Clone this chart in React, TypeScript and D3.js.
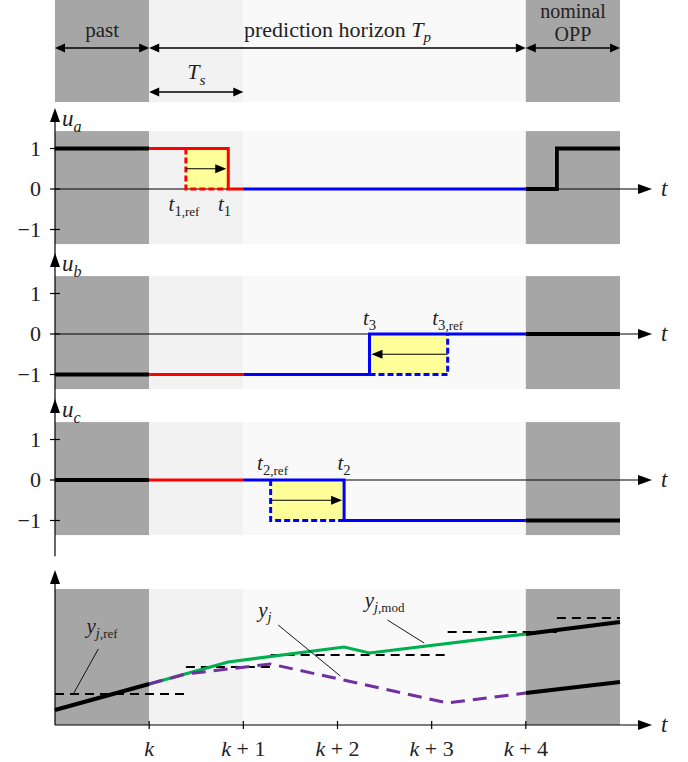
import * as d3 from 'd3'

// time axis, in sample steps relative to k
const xTicks = [0, 1, 2, 3, 4]
const xTickLabels = ['k', 'k+1', 'k+2', 'k+3', 'k+4']
const yTicks = [1, 0, -1]
const yTickLabels = ['1', '0', '−1']

// switching instants
const t1Ref = 0.39
const t1 = 0.84
const t2Ref = 1.29
const t2 = 2.07
const t3 = 2.34
const t3Ref = 3.17
const tNom = 4.33

const regions = [
  { from: -1, to: 0, fill: '#a6a6a6' },
  { from: 0, to: 1, fill: '#f2f2f2' },
  { from: 1, to: 4, fill: '#f9f9f9' },
  { from: 4, to: 5, fill: '#a6a6a6' },
]

// switching sequences (t, u)
const uaPast = [[-1, 1], [0, 1]]
const uaFirst = [[0, 1], [t1, 1], [t1, 0], [1, 0]]
const uaRest = [[1, 0], [4, 0]]
const uaNominal = [[4, 0], [tNom, 0], [tNom, 1], [5, 1]]
const uaRef = [[t1Ref, 1], [t1Ref, 0], [t1, 0]]

const ubPast = [[-1, -1], [0, -1]]
const ubFirst = [[0, -1], [1, -1]]
const ubRest = [[1, -1], [t3, -1], [t3, 0], [4, 0]]
const ubNominal = [[4, 0], [5, 0]]
const ubRef = [[t3, -1], [t3Ref, -1], [t3Ref, 0]]

const ucPast = [[-1, 0], [0, 0]]
const ucFirst = [[0, 0], [1, 0]]
const ucRest = [[1, 0], [t2, 0], [t2, -1], [4, -1]]
const ucNominal = [[4, -1], [5, -1]]
const ucRef = [[t2Ref, 0], [t2Ref, -1], [t2, -1]]

// output trajectories
const yPast = [[-1, 1.5], [0, 4.1]]
const yMod = [[0, 4.1], [t1, 6.3], [t2, 7.8], [t3, 7.2], [4, 9.1]]
const yJ = [[0, 4.1], [t1Ref, 5.1], [t2Ref, 6.1], [t3Ref, 2.2], [4, 3.2]]
const yNomUpper = [[4, 9.1], [5, 10.3]]
const yNomLower = [[4, 3.2], [5, 4.3]]
const yRefSteps = [
  { from: -1, to: t1Ref, y: 3.1 },
  { from: t1Ref, to: t2Ref, y: 5.8 },
  { from: t2Ref, to: t3Ref, y: 7.0 },
  { from: t3Ref, to: tNom, y: 9.3 },
  { from: tNom, to: 5, y: 10.7 },
]

const W = 688
const H = 762
const RED = '#ff0000'
const BLUE = '#0000ff'
const GREEN = '#00b050'
const PURPLE = '#7030a0'
const YELLOW = '#ffff99'
const FS = 21

const x = d3.scaleLinear().domain([-1, 5]).range([55, 620])
const axisEnd = 652

const Head = ({ x0, y0, dir, size = 14, width = 10 }) => {
  // triangle with tip at (x0, y0)
  const h = width / 2
  let pts
  if (dir === 'right') pts = [[x0, y0], [x0 - size, y0 - h], [x0 - size, y0 + h]]
  else if (dir === 'left') pts = [[x0, y0], [x0 + size, y0 - h], [x0 + size, y0 + h]]
  else pts = [[x0, y0], [x0 - h, y0 + size], [x0 + h, y0 + size]]
  return <polygon points={pts.map(p => p.join(',')).join(' ')} fill="black" />
}

const DArrow = ({ xa, xb, y }) => (
  <g>
    <line x1={xa + 4} x2={xb - 4} y1={y} y2={y} stroke="black" strokeWidth="1.5" />
    <Head x0={xa} y0={y} dir="left" size={10} width={9} />
    <Head x0={xb} y0={y} dir="right" size={10} width={9} />
  </g>
)

// math label: main symbol italic, subscript parts
const Sym = ({ x0, y0, main, sub, subRoman, anchor = 'middle', size = FS }) => (
  <text x={x0} y={y0} textAnchor={anchor} fontSize={size}>
    <tspan fontStyle="italic">{main}</tspan>
    {sub !== undefined && (
      <tspan fontSize={size * 0.7} dy={size * 0.25} fontStyle={/^[a-z]$/.test(sub) ? 'italic' : 'normal'}>
        {sub}
      </tspan>
    )}
    {subRoman && <tspan fontSize={size * 0.62} fontStyle="normal">{subRoman}</tspan>}
  </text>
)

const panels = [
  {
    name: 'a', zero: 189,
    past: uaPast, first: uaFirst, rest: uaRest, nominal: uaNominal, ref: uaRef, refColor: RED,
    box: [t1Ref, t1, 0, 1], arrow: [t1Ref, t1],
    labels: [
      { t: t1Ref - 0.02, dy: 22, sub: '1', subRoman: ',ref' },
      { t: t1 - 0.04, dy: 22, sub: '1' },
    ],
  },
  {
    name: 'b', zero: 334,
    past: ubPast, first: ubFirst, rest: ubRest, nominal: ubNominal, ref: ubRef, refColor: BLUE,
    box: [t3, t3Ref, -1, 0], arrow: [t3Ref, t3],
    labels: [
      { t: t3, dy: -9, sub: '3' },
      { t: t3Ref, dy: -9, sub: '3', subRoman: ',ref' },
    ],
  },
  {
    name: 'c', zero: 480,
    past: ucPast, first: ucFirst, rest: ucRest, nominal: ucNominal, ref: ucRef, refColor: BLUE,
    box: [t2Ref, t2, -1, 0], arrow: [t2Ref, t2],
    labels: [
      { t: t2Ref + 0.02, dy: -10, sub: '2', subRoman: ',ref' },
      { t: t2, dy: -10, sub: '2' },
    ],
  },
]

const ControlPanel = ({ p }) => {
  const y = d3.scaleLinear().domain([-1, 1]).range([p.zero + 40.5, p.zero - 40.5])
  const line = d3.line().x(d => x(d[0])).y(d => y(d[1]))
  const [b0, b1, v0, v1] = p.box
  const ay = y((v0 + v1) / 2)
  const [a0, a1] = p.arrow
  const dir = a1 > a0 ? 'right' : 'left'
  return (
    <g>
      {regions.map(r => (
        <rect key={r.from} x={x(r.from)} width={x(r.to) - x(r.from)} y={y(1.43)} height={y(-1.36) - y(1.43)} fill={r.fill} />
      ))}
      <rect x={x(b0)} width={x(b1) - x(b0)} y={y(v1)} height={y(v0) - y(v1)} fill={YELLOW} />
      {/* axes */}
      <line x1={x(-1)} x2={axisEnd - 8} y1={y(0)} y2={y(0)} stroke="black" strokeWidth="1.2" />
      <Head x0={axisEnd} y0={y(0)} dir="right" />
      <text x={axisEnd + 9} y={y(0) + 7} fontStyle="italic" fontSize="23">t</text>
      <line x1={x(-1)} x2={x(-1)} y1={y(2) + 6} y2={y(-1.88)} stroke="black" strokeWidth="1.2" />
      <Head x0={x(-1)} y0={y(2)} dir="up" />
      <Sym x0={x(-1) + 7} y0={y(1.55)} main="u" sub={p.name} anchor="start" size={23} />
      {yTicks.map((v, i) => (
        <g key={v}>
          <line x1={x(-1) - 5} x2={x(-1) + 5} y1={y(v)} y2={y(v)} stroke="black" strokeWidth="1.2" />
          <text x={41} y={y(v) + 7} textAnchor="end" fontSize="22">{yTickLabels[i]}</text>
        </g>
      ))}
      {/* trajectories */}
      <path d={line(p.past)} fill="none" stroke="black" strokeWidth="3.8" />
      <path d={line(p.first)} fill="none" stroke={RED} strokeWidth="3" />
      <path d={line(p.rest)} fill="none" stroke={BLUE} strokeWidth="3" />
      <path d={line(p.nominal)} fill="none" stroke="black" strokeWidth="3.8" />
      <path d={line(p.ref)} fill="none" stroke={p.refColor} strokeWidth="3" strokeDasharray="6,3" />
      <line x1={x(a0)} x2={x(a1) + (dir === 'right' ? -10 : 10)} y1={ay} y2={ay} stroke="black" strokeWidth="1.2" />
      <Head x0={x(a1) + (dir === 'right' ? -2 : 2)} y0={ay} dir={dir} size={11} width={9} />
      {p.labels.map((l, i) => (
        <Sym key={i} x0={x(l.t)} y0={y(0) + l.dy} main="t" sub={l.sub} subRoman={l.subRoman} />
      ))}
    </g>
  )
}

const OutputPanel = () => {
  const y = d3.scaleLinear().domain([0, 13.6]).range([725, 589])
  const line = d3.line().x(d => x(d[0])).y(d => y(d[1]))
  return (
    <g>
      {regions.map(r => (
        <rect key={r.from} x={x(r.from)} width={x(r.to) - x(r.from)} y={y(13.6)} height={y(0) - y(13.6)} fill={r.fill} />
      ))}
      {yRefSteps.map(s => (
        <line key={s.from} x1={x(s.from)} x2={x(s.to)} y1={y(s.y)} y2={y(s.y)} stroke="black" strokeWidth="2" strokeDasharray="9,6" />
      ))}
      <path d={line(yMod)} fill="none" stroke={GREEN} strokeWidth="3.2" />
      <path d={line(yJ)} fill="none" stroke={PURPLE} strokeWidth="3" strokeDasharray="14,8" />
      <path d={line(yPast)} fill="none" stroke="black" strokeWidth="4" />
      <path d={line(yNomUpper)} fill="none" stroke="black" strokeWidth="4" />
      <path d={line(yNomLower)} fill="none" stroke="black" strokeWidth="4" />
      {/* annotations */}
      <line x1={x(-0.54)} y1={y(7.6)} x2={x(-0.8)} y2={y(3.2)} stroke="black" strokeWidth="0.9" />
      <Sym x0={x(-0.5)} y0={y(9.2)} main="y" sub="j" subRoman=",ref" />
      <line x1={x(1.37)} y1={y(10.0)} x2={x(2.03)} y2={y(4.9)} stroke="black" strokeWidth="0.9" />
      <Sym x0={x(1.23)} y0={y(10.8)} main="y" sub="j" />
      <line x1={x(2.53)} y1={y(10.5)} x2={x(2.92)} y2={y(8.2)} stroke="black" strokeWidth="0.9" />
      <Sym x0={x(2.5)} y0={y(11.8)} main="y" sub="j" subRoman=",mod" />
      {/* axes */}
      <line x1={x(-1)} x2={axisEnd - 8} y1={y(0)} y2={y(0)} stroke="black" strokeWidth="1.2" />
      <Head x0={axisEnd} y0={y(0)} dir="right" />
      <text x={axisEnd + 9} y={y(0) + 7} fontStyle="italic" fontSize="23">t</text>
      <line x1={x(-1)} x2={x(-1)} y1={y(14.8)} y2={y(0)} stroke="black" strokeWidth="1.2" />
      <Head x0={x(-1)} y0={y(15.5)} dir="up" />
      {xTicks.map((t, i) => {
        const parts = xTickLabels[i].split('+')
        return (
          <g key={t}>
            <line x1={x(t)} x2={x(t)} y1={y(0) - 4} y2={y(0) + 4} stroke="black" strokeWidth="1.2" />
            <text x={x(t)} y={y(0) + 31} textAnchor="middle" fontSize="22">
              <tspan fontStyle="italic">{parts[0]}</tspan>
              {parts[1] && <tspan>{' + ' + parts[1]}</tspan>}
            </text>
          </g>
        )
      })}
    </g>
  )
}

const Header = () => (
  <g>
    {regions.map(r => (
      <rect key={r.from} x={x(r.from)} width={x(r.to) - x(r.from)} y={0} height={102} fill={r.fill} />
    ))}
    <text x={(x(-1) + x(0)) / 2} y={37} textAnchor="middle" fontSize={FS}>past</text>
    <DArrow xa={x(-1)} xb={x(0)} y={48} />
    <text x={(x(0) + x(4)) / 2} y={37} textAnchor="middle" fontSize="22">
      prediction horizon <tspan fontStyle="italic">T</tspan>
      <tspan fontSize="15" dy="5" fontStyle="italic">p</tspan>
    </text>
    <DArrow xa={x(0)} xb={x(4)} y={48} />
    <text x={(x(4) + x(5)) / 2} y={18} textAnchor="middle" fontSize="20">nominal</text>
    <text x={(x(4) + x(5)) / 2} y={41} textAnchor="middle" fontSize="20">OPP</text>
    <DArrow xa={x(4)} xb={x(5)} y={48} />
    <Sym x0={(x(0) + x(1)) / 2} y0={79} main="T" sub="s" size={22} />
    <DArrow xa={x(0)} xb={x(1)} y={92} />
  </g>
)

export default function App() {
  return (
    <svg
      width={W}
      height={H}
      viewBox={`0 0 ${W} ${H}`}
      fontFamily="Liberation Serif"
      fill="#222"
      style={{ position: 'absolute', left: 0, top: 0, background: 'white' }}
    >
      <Header />
      {panels.map(p => (
        <ControlPanel key={p.name} p={p} />
      ))}
      <OutputPanel />
    </svg>
  )
}
